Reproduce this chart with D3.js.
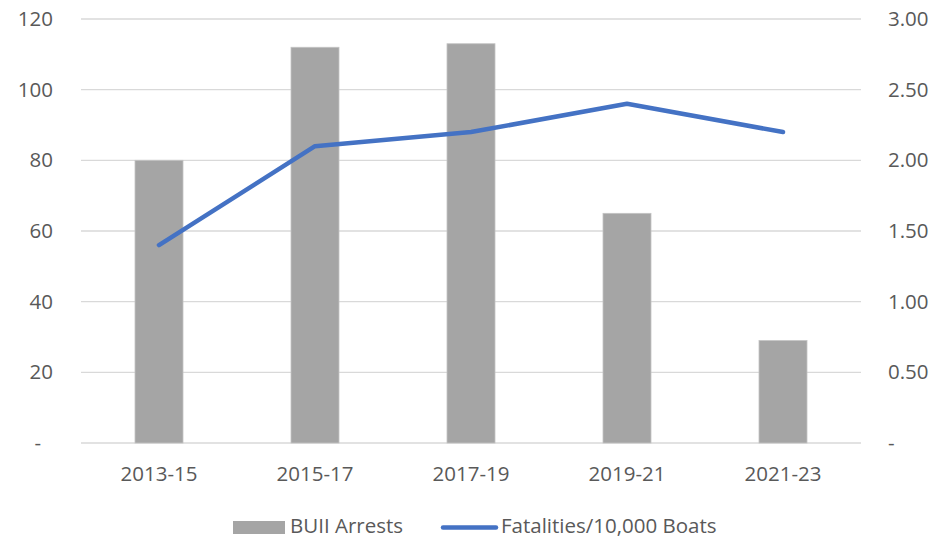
<!DOCTYPE html>
<html>
<head>
<meta charset="utf-8">
<script src="https://cdn.jsdelivr.net/npm/d3@7"></script>
<style>
  html, body { margin: 0; padding: 0; background: #fff; }
  svg { display: block; }
  text { font-family: "Open Sans", "Liberation Sans", sans-serif; fill: #595959; }
</style>
</head>
<body>
<svg id="chart" width="933" height="538"></svg>
<script>
const categories = ["2013-15", "2015-17", "2017-19", "2019-21", "2021-23"];
const arrests = [80, 112, 113, 65, 29];
const fatalities = [1.40, 2.10, 2.20, 2.40, 2.20];
const leftTicks = [0, 20, 40, 60, 80, 100, 120];
const rightTicks = [0, 0.5, 1.0, 1.5, 2.0, 2.5, 3.0];
const seriesNames = ["BUII Arrests", "Fatalities/10,000 Boats"];

const svg = d3.select("#chart");
const pL = 81, pR = 861, pT = 19, pB = 443;
const fs = 20.5;

const x = d3.scaleBand().domain(categories).range([pL, pR]).paddingInner(0).paddingOuter(0);
const yL = d3.scaleLinear().domain([0, 120]).range([pB, pT]);
const yR = d3.scaleLinear().domain([0, 3]).range([pB, pT]);

// gridlines
svg.append("g").selectAll("line").data(leftTicks).join("line")
  .attr("x1", pL).attr("x2", pR)
  .attr("y1", d => yL(d)).attr("y2", d => yL(d))
  .attr("stroke", "#d9d9d9").attr("stroke-width", 1.3);

// left axis
const axL = d3.axisLeft(yL).tickValues(leftTicks).tickSize(0).tickPadding(0)
  .tickFormat(d => d === 0 ? "-" : d3.format("d")(d));
const gL = svg.append("g").attr("transform", `translate(53,0)`).call(axL);
gL.select(".domain").remove();
gL.selectAll("text").attr("font-size", fs).attr("fill", "#595959")
  .attr("font-family", '"Open Sans", sans-serif')
  .attr("dx", d => d === 0 ? -12 : 0);

// right axis
const axR = d3.axisRight(yR).tickValues(rightTicks).tickSize(0).tickPadding(0)
  .tickFormat(d => d === 0 ? "-" : d3.format(".2f")(d));
const gR = svg.append("g").attr("transform", `translate(888,0)`).call(axR);
gR.select(".domain").remove();
gR.selectAll("text").attr("font-size", fs).attr("fill", "#595959")
  .attr("font-family", '"Open Sans", sans-serif');

// bars
const bw = 48;
svg.append("g").selectAll("rect").data(arrests).join("rect")
  .attr("x", (d, i) => x(categories[i]) + x.bandwidth() / 2 - bw / 2)
  .attr("width", bw)
  .attr("y", d => yL(d))
  .attr("height", d => yL(0) - yL(d))
  .attr("fill", "#a5a5a5")
  .attr("stroke", "#c4c4c4").attr("stroke-width", 0.8);

// x axis labels
const axB = d3.axisBottom(x).tickSize(0).tickPadding(0);
const gB = svg.append("g").attr("transform", `translate(0,0)`).call(axB);
gB.select(".domain").remove();
gB.selectAll("text").attr("font-size", fs).attr("fill", "#595959")
  .attr("font-family", '"Open Sans", sans-serif')
  .attr("y", 481).attr("dy", 0);

// line
const line = d3.line()
  .x((d, i) => x(categories[i]) + x.bandwidth() / 2)
  .y(d => yR(d));
svg.append("path").datum(fatalities)
  .attr("d", line)
  .attr("fill", "none")
  .attr("stroke", "#4472c4")
  .attr("stroke-width", 4.5)
  .attr("stroke-linecap", "round")
  .attr("stroke-linejoin", "round");

// legend
const lg = svg.append("g");
lg.append("rect").attr("x", 233).attr("y", 521).attr("width", 52).attr("height", 13).attr("fill", "#a5a5a5");
lg.append("text").attr("x", 290).attr("y", 533).attr("font-size", fs).text(seriesNames[0]);
lg.append("line").attr("x1", 443).attr("x2", 496).attr("y1", 527.5).attr("y2", 527.5)
  .attr("stroke", "#4472c4").attr("stroke-width", 4.5).attr("stroke-linecap", "round");
lg.append("text").attr("x", 501).attr("y", 533).attr("font-size", fs).text(seriesNames[1]);
</script>
</body>
</html>
